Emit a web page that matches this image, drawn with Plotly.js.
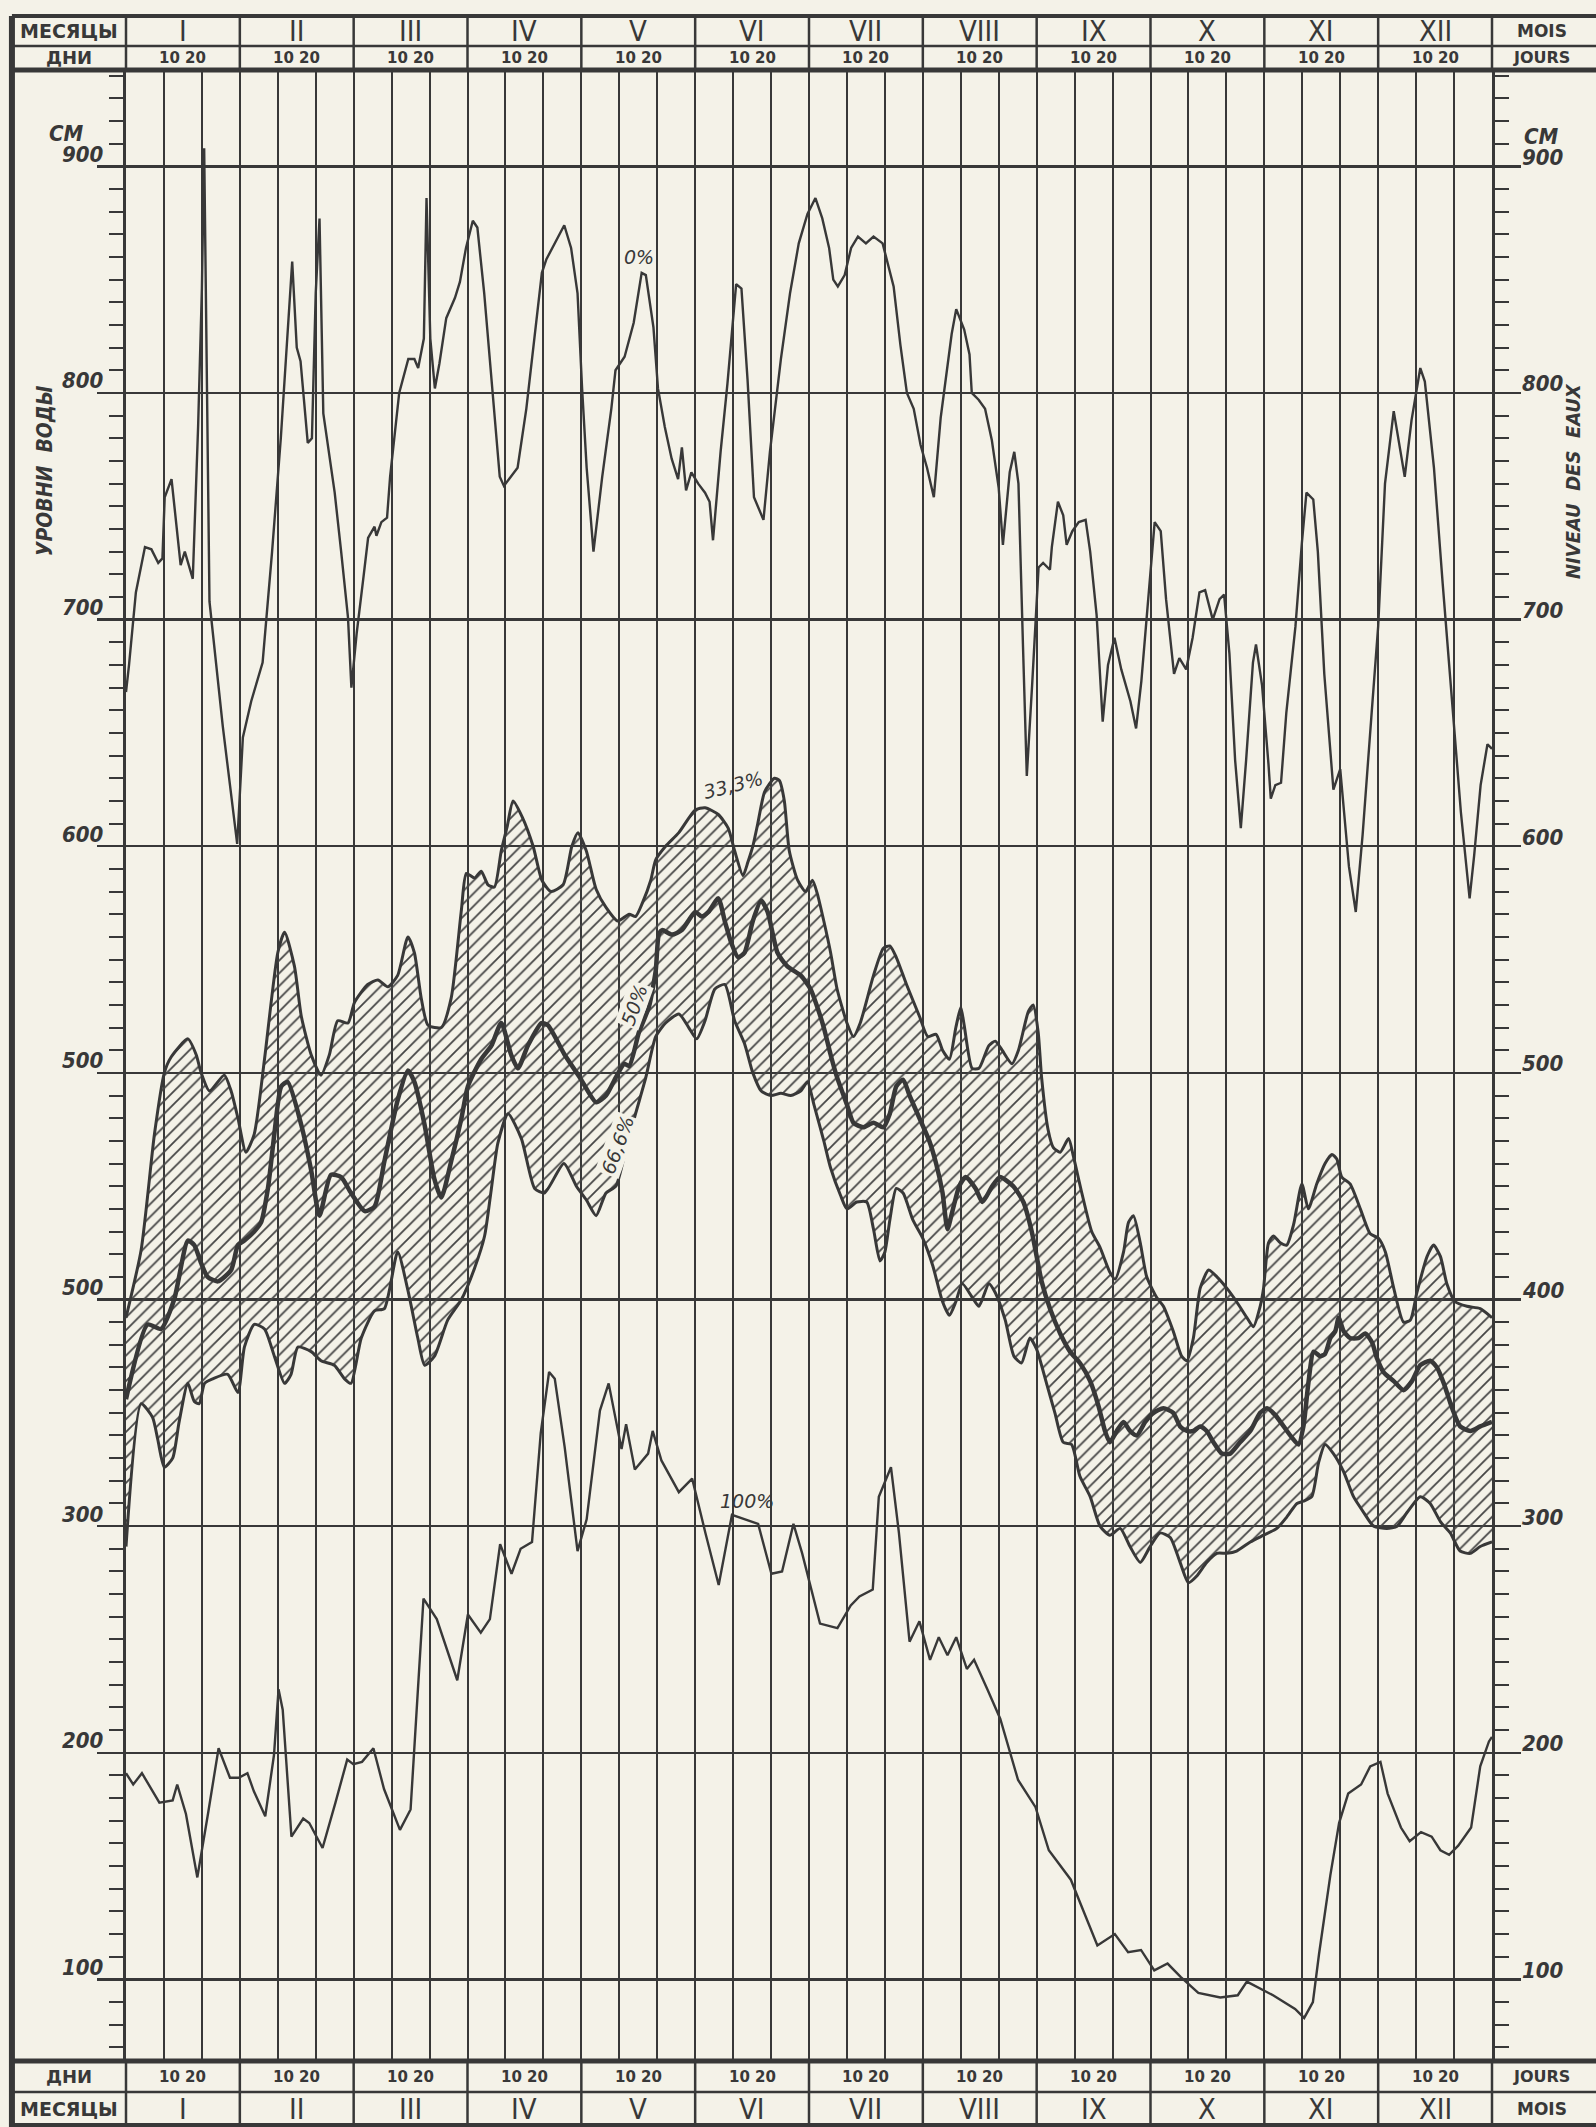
<!DOCTYPE html>
<html>
<head>
<meta charset="utf-8">
<script src="https://cdn.plot.ly/plotly-3.0.1.min.js"></script>
<style>
html,body{margin:0;padding:0;background:#f4f2e8;}
#chart{width:1596px;height:2127px;}
</style>
</head>
<body>
<div id="chart"></div>
<script>
// ---------- categories / labels ----------
const months = ['I','II','III','IV','V','VI','VII','VIII','IX','X','XI','XII'];
const decadeLabel = '10 20';
const tickVals = [100,200,300,400,500,600,700,800,900];
const leftTickText  = ['100','200','300','500','500','600','700','800','900'];
const rightTickText = ['100','200','300','400','500','600','700','800','900'];

// ---------- series (day of year on 30-day months, water level in cm) ----------
// 0 % curve
const p0_day = [0,0.8,2.6,5,6.7,8.5,9.6,10.2,12,14.4,15.5,17.6,19,20,20.6,21,22,25.5,28.5,29.3,30.8,33,36,38.5,40.8,43.8,45,46,47.9,49,50,51,52,53,55,56.7,58.5,59.4,60.8,62.6,63.8,65.5,66,67.3,68.8,69.6,72,74.4,76,77,78.5,79.2,80.2,81.4,82.6,84.4,86.7,88,89.6,91.4,92.6,94.4,96.1,98.5,99.6,103.2,105.5,107.9,109.6,110.8,113.2,115.5,117.3,119,120.2,121.4,123.2,125.5,127.9,129,131.4,133.8,135.9,137,139,140.2,142,143.8,145.5,146.5,147.6,149,150.8,152.6,153.8,154.7,156.7,158.5,160.8,162.2,163.8,165.5,168,169.7,172.6,175,177.3,179.6,181.7,183.5,185.3,186.4,187.6,189.4,191.1,192.9,195,197,199.4,202.3,204.1,205.8,207.6,209.4,211.1,212.9,214.7,217.6,218.8,220.9,222.3,222.9,224.7,226.4,228.2,230,231.1,232.9,234.1,235.2,236.4,237.4,238.8,240.5,241.7,243.5,244,245.6,247,247.9,249.4,251.1,252.9,254.1,255.8,257.4,258.8,260.5,262.3,264.7,266.2,267.6,269.4,271.1,272.7,274.1,276.2,277.6,279.4,281.1,282.9,284.4,286.4,288.2,289.4,290.8,292.3,293.8,295.2,297,297.8,299.4,301.1,301.7,302.9,304.4,305.8,308.2,309.9,311.1,312.9,314.1,315.8,318.2,320,322.3,324.1,325.9,328.2,330,331.8,334.1,335.9,337,338.8,341.1,342.3,344.7,347,349.4,351.8,354.1,355.3,357,358.8,360];
const p0_val = [668,680,712,732,731,725,727,754,762,724,730,718,785,846,908,844,708,653,613,601,648,664,681,730,780,858,820,814,778,780,844,877,791,780,756,730,701,670,694,719,736,741,737,743,745,763,800,815,815,811,824,886,824,802,813,833,842,849,864,876,873,844,811,763,759,767,793,829,853,859,867,874,864,844,802,767,730,763,793,810,816,831,853,852,829,802,785,771,762,776,757,765,760,756,752,735,774,804,848,846,806,754,744,774,815,844,866,879,886,877,864,850,847,852,864,869,866,869,866,847,821,800,793,777,767,754,789,826,837,828,817,800,797,793,779,758,733,765,774,760,688,631,671,723,725,722,732,752,746,733,739,743,744,730,702,655,680,692,678,664,652,673,709,743,739,709,676,683,678,692,712,713,700,709,711,685,638,608,638,681,689,671,636,621,627,628,659,697,734,756,753,730,676,625,634,591,571,605,657,697,760,792,774,763,788,811,805,767,716,666,615,577,596,627,645,643];

// 33,3 % curve (upper edge of hatched band)
const p33_day = [0,4,7.5,10.1,11.9,16.3,18.5,19.8,22,25.9,27.7,29.5,31.6,33.8,36.5,40,41.8,44.4,46.2,48.8,51.4,53.6,55.8,58.5,60.2,63.7,66.4,69,71.6,74.3,76,77.8,79.6,83.1,85.7,88.4,89.7,91.9,93.6,95.4,97.1,98.9,100.5,102,104.4,107.3,109.6,112,115.2,117.5,119.1,121.3,123.9,126.5,129.6,132.6,134.3,136.1,138.3,139.6,142.2,145.7,150,152.6,156.1,158.7,160.4,162.6,163.9,165.2,166.5,168.3,170.9,172.2,173.5,174.8,177,179.1,180.9,182.2,183.9,185.7,187.4,190,191.7,193.5,197,199.6,201.3,203,205.7,209.1,211.3,213.5,215.2,217,218.7,220,220.9,223,224.8,227.4,229.1,230.9,233.5,235.2,237.8,239.1,240.4,241.3,243,244.4,246.2,248.4,249.7,251.9,254.5,256.7,259.3,260.7,262.9,264.2,265.5,267.3,269,271.6,273.4,276,278.2,279.6,281.3,283.1,285.3,287.5,290.1,292.7,295.4,297.1,298.9,299.8,301.1,302.4,304.2,305.9,307.7,309.9,311.6,313.8,316,317.8,319.1,320.4,322.6,325.3,327.9,330.1,331.9,334.1,336.7,338.5,340.2,342.9,344.6,346.4,348.1,350.3,353.4,356.9,360];
const p33_val = [392,422,473,500,507,515,508,500,492,499,492,480,465,473,506,553,562,547,525,508,499,508,523,522,531,539,541,538,543,560,553,533,521,520,533,572,588,586,589,583,582,598,609,620,613,600,585,580,583,600,606,598,581,573,567,570,569,575,585,594,600,606,616,617,614,608,598,587,593,600,610,624,630,629,620,598,585,580,585,579,567,553,537,522,516,522,543,555,556,551,539,525,516,517,510,506,520,529,521,502,502,512,514,510,504,510,527,530,518,498,475,467,465,471,463,447,430,423,412,409,421,434,437,425,410,401,397,386,375,373,383,405,413,410,405,399,392,388,397,405,425,428,425,424,433,451,440,451,460,464,462,454,451,440,429,427,421,405,390,391,403,419,424,419,407,399,397,396,392];

// 50 % curve (thick)
const p50_day = [0,5.7,9.2,12.7,16.3,18,19.8,21.5,24.2,27.7,29.5,31.2,33.8,35.6,37.4,39.1,40.9,42.6,46.2,48.8,51,54,56.7,59.3,62.9,65.5,68.1,71.6,74.3,76,78.7,81.3,83.1,85.7,88.4,90.1,93.6,96.3,98.9,101.5,103.3,105.9,109.5,111.2,115.6,119.6,123.9,126.5,129.1,131.3,132.6,135.2,137.8,139.6,140.4,141.3,143.9,146.5,150,151.7,153.5,156.1,157.8,159.6,161.3,163,165.2,167.4,169.1,171.7,174.3,177.8,180.4,182.2,183.9,185.7,187.4,190,191.7,194.3,197,199.6,201.3,203,204.8,206.5,209.1,211.7,213.5,215.2,216.5,217.8,219.6,221.3,223.9,225.7,228.3,230.3,233.8,236.5,238.7,240,241.3,243.5,246.2,248.8,251.4,254.1,256.3,258,259.3,261.1,262.9,264.6,266.4,268.6,270.8,273.4,276,277.8,279.6,281.3,283.1,284.8,286.6,288.8,291,293.6,296.3,298.9,300.7,302.9,305.1,307.3,309,310.3,311.6,313,314.7,316,317.4,318.7,319.6,320.9,322.6,324.8,326.6,328.4,329.7,331.4,334.1,336.7,338.9,341.1,343.7,345.5,347.3,349.5,351.6,354.3,356.9,360];
const p50_val = [356,389,387,400,426,424,416,410,408,413,424,426,430,434,449,473,494,496,477,457,437,455,454,447,439,441,461,488,501,496,477,453,445,461,480,494,506,512,522,508,502,512,522,521,508,498,487,490,498,504,503,518,529,545,561,563,561,563,571,569,571,577,567,557,551,553,567,576,571,553,547,543,537,529,520,508,498,486,478,476,478,476,482,494,497,490,480,470,460,447,431,439,450,454,449,443,450,454,450,443,430,419,408,396,385,377,372,364,353,342,337,342,346,342,340,346,350,352,350,344,342,342,344,342,337,332,332,337,342,350,352,349,344,339,336,344,363,377,375,376,383,386,392,386,383,383,385,381,374,368,364,360,364,371,373,370,363,352,344,342,344,346];

// 66,6 % curve (lower edge of hatched band)
const p66_day = [0,4,7,8.4,10.1,12.3,14,16.3,18,19.3,20.7,22.9,26.8,29.5,31.2,33.8,36.5,39.1,41.8,43.5,45.3,48.8,51.4,54.9,57.6,59.3,62,65.5,68.1,71.6,74.3,76.9,78.7,81.3,84.8,88.4,91.9,94.5,96.3,98,100.7,104.2,107.7,110.3,115.4,118.7,121.3,123.9,126.5,129.1,131.7,134.3,137,139.6,142.2,145.7,148.3,150.4,152.6,155.2,157.8,160.4,163,165.2,167.4,170,172.6,175.2,177.8,179.6,181.3,183.9,185.7,188.3,190,192.6,195.2,197,198.7,200,201.3,203,204.8,207.4,210,212.6,215.2,217,218.7,220.4,223,224.8,227.4,229.1,231.7,234,236,238.2,240,242.6,244.8,247,249.2,251.4,254.1,256.7,259.3,262,264.6,267.3,269.9,272.5,275.2,277.8,280,282.2,284.8,287.5,290.1,292.7,296.3,299.8,303.3,305.9,308.6,310.3,312.5,314.3,316,318.2,320.9,323.5,326.2,328.8,332.3,335,337.6,341.1,343.7,346.4,349,351.6,354.3,356.9,360];
const p66_val = [291,354,348,338,326,330,346,363,355,354,363,365,367,359,379,389,387,375,363,367,379,377,373,371,365,363,383,395,396,421,404,383,371,375,391,400,414,428,449,469,482,471,449,447,460,450,444,437,447,450,466,482,498,516,522,526,520,515,523,537,539,523,513,500,492,490,491,490,492,496,486,470,458,446,440,443,443,431,417,421,435,449,447,435,427,415,399,393,399,407,401,397,407,403,391,375,372,383,378,363,350,337,336,322,313,300,296,299,291,284,291,297,295,284,275,278,284,288,288,289,293,296,299,304,310,311,313,328,336,332,324,313,306,300,299,300,306,313,310,302,297,289,288,291,293];

// 100 % curve
const p100_day = [0,1.9,4.2,8.8,12.3,13.5,15.8,18.8,21.6,24.4,27.4,29.7,32,33.7,36.7,39,40.2,41.3,43.6,46.7,48.3,51.8,55.2,58.3,59.9,62.2,65.2,68,72.2,75,78.4,81.9,87.3,90.1,93.5,95.9,98.6,101.6,104,107,109.3,111.5,113,115.6,119,121.4,124.9,127.2,130.6,131.8,134.1,137.6,138.8,141.1,145.7,149.2,152.7,156.2,159.7,163.1,166.6,170.1,172.9,175.9,178.2,182.9,187.5,191,193.3,196.8,198.4,201.6,203.7,206.5,209.1,211.9,214.2,216.5,218.8,221.6,223.5,227,230.4,235.1,239.7,243.2,249,256,260.6,264.1,267.5,271,274.5,278,282.6,288.4,293,295.4,297.7,302.3,308.1,310.5,312.8,314.4,317.4,319.7,322.1,325.5,327.9,330.6,332.5,336,338.3,341.3,344.1,346.4,348.7,351.1,354.5,356.9,359.2,360];
const p100_val = [191,186,191,178,179,186,173,145,173,202,189,189,191,183,172,199,228,219,163,171,169,158,178,197,195,196,202,184,166,175,268,259,232,261,253,259,292,279,290,293,341,368,365,335,289,303,351,363,334,345,325,332,342,329,315,321,297,274,305,303,301,279,280,301,288,257,255,265,269,272,313,326,297,249,258,241,251,243,251,237,241,228,215,188,176,157,144,115,120,112,113,104,107,101,94,92,93,99,97,93,87,83,90,111,146,169,182,186,194,196,182,167,161,165,163,157,155,159,167,194,205,207];

// ---------- style ----------
const INK = '#383838';
const PAPER = '#f4f2e8';
const DAYS_PER_MONTH = 30;
const X_MAX = months.length * DAYS_PER_MONTH;
const Y_RANGE = [64, 942.5];
const hdrFont = 'DejaVu Sans, Arial, sans-serif';
const romanFont = 'DejaVu Sans Condensed, Liberation Sans Narrow, DejaVu Sans, sans-serif';
const numFont = 'DejaVu Sans Condensed, DejaVu Sans, sans-serif';

const traces = [
  {x:p66_day, y:p66_val, type:'scatter', mode:'lines', line:{color:INK, width:3, shape:'spline', smoothing:0.6}, hoverinfo:'skip'},
  {x:p33_day, y:p33_val, type:'scatter', mode:'lines', fill:'tonexty',
   fillcolor:'rgba(0,0,0,0)',
   fillpattern:{shape:'/', size:9, solidity:0.2, fgcolor:'#454545', bgcolor:'rgba(0,0,0,0)'},
   line:{color:INK, width:3, shape:'spline', smoothing:0.6}, hoverinfo:'skip'},
  {x:p50_day, y:p50_val, type:'scatter', mode:'lines', line:{color:INK, width:4.5, shape:'spline', smoothing:0.6}, hoverinfo:'skip'},
  {x:p0_day, y:p0_val, type:'scatter', mode:'lines', yaxis:'y2', line:{color:INK, width:2.4}, hoverinfo:'skip'},
  {x:p100_day, y:p100_val, type:'scatter', mode:'lines', line:{color:INK, width:2.4}, hoverinfo:'skip'}
];

// ---------- frame & header geometry (paper units) ----------
const TOP_LINE = 1.0271, TOP_DIV = 1.0121;
const BOT_DIV = -0.0156, BOT_LINE = -0.0321;
const LEFT_BORDER = -0.0835, RIGHT_END = 1.08;
const shapes = [];
[[TOP_LINE,4],[TOP_DIV,2.5],[1,5],[0,5],[BOT_DIV,2.5],[BOT_LINE,4]].forEach(([y,w]) => {
  shapes.push({type:'line', xref:'paper', yref:'paper', x0:LEFT_BORDER, x1:RIGHT_END, y0:y, y1:y, line:{color:INK, width:w}});
});
shapes.push({type:'line', xref:'paper', yref:'paper', x0:LEFT_BORDER, x1:LEFT_BORDER, y0:-0.05, y1:TOP_LINE, line:{color:INK, width:6}});
for (let i = 0; i <= months.length; i++) {
  const px = i / months.length;
  shapes.push({type:'line', xref:'paper', yref:'paper', x0:px, x1:px, y0:1, y1:TOP_LINE, line:{color:INK, width:2.5}});
  shapes.push({type:'line', xref:'paper', yref:'paper', x0:px, x1:px, y0:BOT_LINE, y1:0, line:{color:INK, width:2.5}});
}

// ---------- annotations ----------
const ann = [];
const C = {xanchor:'center', yanchor:'middle', showarrow:false};
const rowTop1 = (TOP_LINE + TOP_DIV) / 2, rowTop2 = (TOP_DIV + 1) / 2;
const rowBot1 = BOT_DIV / 2, rowBot2 = (BOT_DIV + BOT_LINE) / 2 - 0.0005;
const leftCol = LEFT_BORDER / 2, rightCol = 1.0366;
months.forEach((m, i) => {
  const xc = i * DAYS_PER_MONTH + DAYS_PER_MONTH / 2;
  [[rowTop1, m, 'roman'], [rowTop2, decadeLabel, 'dec'], [rowBot1, decadeLabel, 'dec'], [rowBot2, m, 'roman']].forEach(([y, t, k]) => {
    ann.push(Object.assign({xref:'x', yref:'paper', x:xc, y:y, text: k === 'dec' ? '<b>' + t + '</b>' : t,
      font: k === 'dec' ? {family:hdrFont, size:15, color:INK} : {family:romanFont, size:29, color:INK}}, C));
  });
});
[[leftCol, rowTop1, 'МЕСЯЦЫ', 19], [leftCol, rowTop2, 'ДНИ', 18], [leftCol, rowBot1, 'ДНИ', 18], [leftCol, rowBot2, 'МЕСЯЦЫ', 19],
 [rightCol, rowTop1, 'MOIS', 17], [rightCol, rowTop2, 'JOURS', 16], [rightCol, rowBot1, 'JOURS', 16], [rightCol, rowBot2, 'MOIS', 17]].forEach(([x, y, t, s]) => {
  ann.push(Object.assign({xref:'paper', yref:'paper', x:x, y:y, text:'<b>' + t + '</b>',
    font:{family:hdrFont, size:s, color:INK}}, C));
});
// y-axis value labels
tickVals.forEach((v, i) => {
  ann.push({xref:'paper', yref:'y', x:-0.0146, y:v, yshift:12, xanchor:'right', yanchor:'middle', showarrow:false,
    text:'<b><i>' + leftTickText[i] + '</i></b>', font:{family:numFont, size:22, color:INK}});
  ann.push({xref:'paper', yref:'y', x:1.0205, y:v, yshift:9, xanchor:'left', yanchor:'middle', showarrow:false,
    text:'<b><i>' + rightTickText[i] + '</i></b>', font:{family:numFont, size:22, color:INK}});
});
// unit & axis titles
ann.push(Object.assign({xref:'paper', yref:'paper', x:-0.0439, y:0.968, text:'<b><i>СМ</i></b>', font:{family:numFont, size:22, color:INK}}, C));
ann.push(Object.assign({xref:'paper', yref:'paper', x:1.0366, y:0.9665, text:'<b><i>CM</i></b>', font:{family:numFont, size:22, color:INK}}, C));
ann.push(Object.assign({xref:'paper', yref:'paper', x:-0.0593, y:0.799, textangle:-90, text:'<b><i>УРОВНИ  ВОДЫ</i></b>', font:{family:numFont, size:21, color:INK}}, C));
ann.push(Object.assign({xref:'paper', yref:'paper', x:1.0593, y:0.7936, textangle:-90, text:'<b><i>NIVEAU  DES  EAUX</i></b>', font:{family:numFont, size:20, color:INK}}, C));
// curve labels
const curveLabels = [
  {t:'0%', d:135.2, v:860, a:0, bg:false},
  {t:'33,3%', d:160, v:627, a:-14, bg:false},
  {t:'50%', d:133.9, v:530, a:-70, bg:true},
  {t:'66,6%', d:129.6, v:468, a:-70, bg:true},
  {t:'100%', d:163.6, v:311, a:0, bg:false}
];
curveLabels.forEach(c => {
  ann.push(Object.assign({xref:'x', yref:'y', x:c.d, y:c.v, text:'<i>' + c.t + '</i>', textangle:c.a,
    bgcolor: c.bg ? PAPER : 'rgba(0,0,0,0)', borderpad:1,
    font:{family:hdrFont, size:19, color:INK}}, C));
});

const yCommon = {
  range:Y_RANGE, autorange:false, tick0:0, dtick:100, showticklabels:false,
  ticks:'outside', ticklen:26, tickwidth:2.5, tickcolor:INK,
  minor:{tick0:0, dtick:10, ticks:'outside', ticklen:14, tickwidth:2, tickcolor:INK, showgrid:false},
  showline:true, linecolor:INK, linewidth:3, zeroline:false, fixedrange:true
};

const layout = {
  width:1596, height:2127,
  margin:{l:126, r:104, t:70, b:66, pad:0},
  paper_bgcolor:PAPER, plot_bgcolor:PAPER,
  showlegend:false,
  xaxis:{range:[0, X_MAX], autorange:false, tick0:0, dtick:10, showgrid:true, gridcolor:INK, gridwidth:2,
         showticklabels:false, ticks:'', zeroline:false, showline:false, fixedrange:true},
  yaxis:Object.assign({}, yCommon, {showgrid:true, gridcolor:INK, gridwidth:2.5}),
  yaxis2:Object.assign({}, yCommon, {overlaying:'y', side:'right', showgrid:false}),
  shapes:shapes,
  annotations:ann
};

Plotly.newPlot('chart', traces, layout, {displayModeBar:false, staticPlot:true});
</script>
</body>
</html>
